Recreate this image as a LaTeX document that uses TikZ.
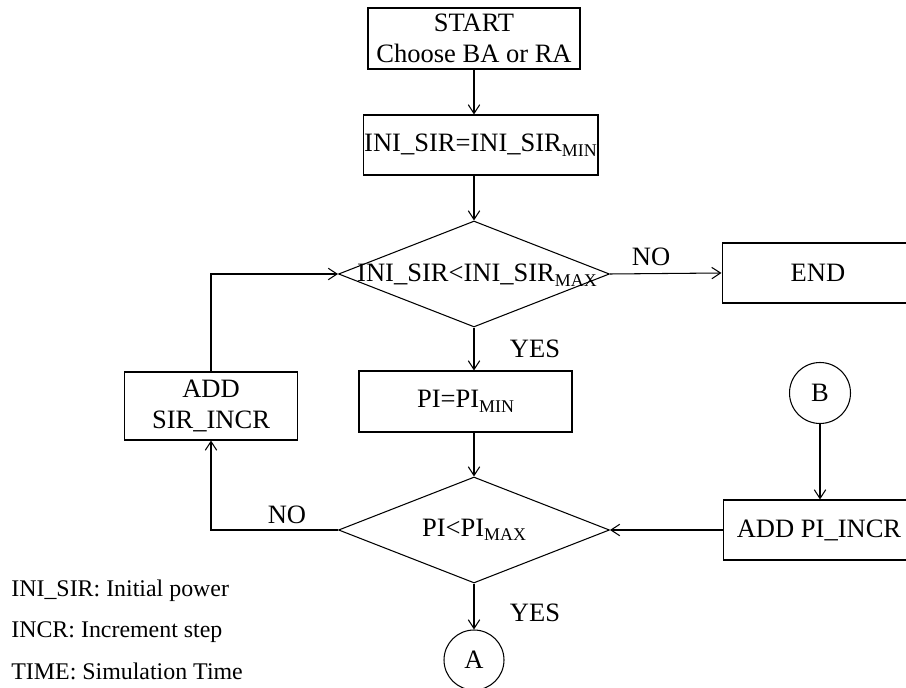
\documentclass[tikz,border=0pt]{standalone}
\usepackage{fontspec}
\setmainfont{Liberation Serif}
\usetikzlibrary{shapes.geometric,arrows.meta}
\newcommand{\lowsub}[1]{\raisebox{-2.6pt}{\fontsize{10.2}{10}\selectfont #1}}
\begin{document}
\begin{tikzpicture}[x=0.02cm,y=-0.02cm,
  every node/.style={font=\fontsize{15.1}{18}\selectfont},
  box/.style={draw,line width=0.6pt,inner sep=0pt,align=center},
  dia/.style={draw,line width=0.6pt,shape=diamond,inner sep=0pt,minimum width=5.42cm,minimum height=2.12cm},
  conn/.style={draw,line width=0.6pt,circle,inner sep=0pt,minimum size=1.22cm},
  arr/.style={-{Straight Barb[length=5pt,width=6.5pt]},line width=0.6pt},
  lbl/.style={inner sep=0pt},
  legend/.style={anchor=base west,inner sep=0pt,font=\fontsize{13.6}{16}\selectfont}]
\useasboundingbox (0,0) rectangle (906,688);
\clip (0,0) rectangle (906,688);
% nodes
\node[box,minimum width=4.24cm,minimum height=1.22cm] (start) at (474,38.5) {START\\Choose BA or RA};
\node[box,minimum width=4.7cm,minimum height=1.2cm] (ini) at (480.5,145) {INI\_SIR=INI\_SIR\lowsub{MIN}};
\node[dia] (d1) at (474,274) {};
\node[lbl] (d1t) at (477,275) {INI\_SIR<INI\_SIR\lowsub{MAX}};
\node[box,minimum width=3.84cm,minimum height=1.2cm] (end) at (818,273) {END};
\node[box,minimum width=4.26cm,minimum height=1.22cm] (pi) at (465.5,401.5) {PI=PI\lowsub{MIN}};
\node[box,minimum width=3.46cm,minimum height=1.36cm] (sir) at (211,406) {ADD\\SIR\_INCR};
\node[dia] (d2) at (474,530) {};
\node[lbl] (d2t) at (474,530) {PI<PI\lowsub{MAX}};
\node[conn] (b) at (820,393) {B};
\node[box,minimum width=3.84cm,minimum height=1.2cm] (addpi) at (819,530) {ADD PI\_INCR};
\node[conn,minimum size=1.2cm] (a) at (474,660) {A};
% labels
\node[lbl] (no1) at (651,257) {NO};
\node[lbl] (yes1) at (535,349) {YES};
\node[lbl] (no2) at (287,515) {NO};
\node[lbl] (yes2) at (535,613) {YES};
% legend
\node[legend] (l1) at (11,597) {INI\_SIR: Initial power};
\node[legend] (l2) at (11,638) {INCR: Increment step};
\node[legend] (l3) at (11,680) {TIME: Simulation Time};
% connectors
\draw[arr] (start.south) -- (start.south |- ini.north);
\draw[arr] (d1.north |- ini.south) -- (d1.north);
\draw[arr] (d1.east) -- (end.west);
\draw[arr] (d1.south) -- (d1.south |- pi.north);
\draw[arr] (d2.north |- pi.south) -- (d2.north);
\draw[arr] (d2.west) -- (sir.south |- d2.west) -- (sir.south);
\draw[arr] (sir.north) -- (sir.north |- d1.west) -- (d1.west);
\draw[arr] (b.south) -- (b.south |- addpi.north);
\draw[arr] (addpi.west) -- (d2.east);
\draw[arr] (d2.south) -- (a.north);
\end{tikzpicture}
\end{document}
